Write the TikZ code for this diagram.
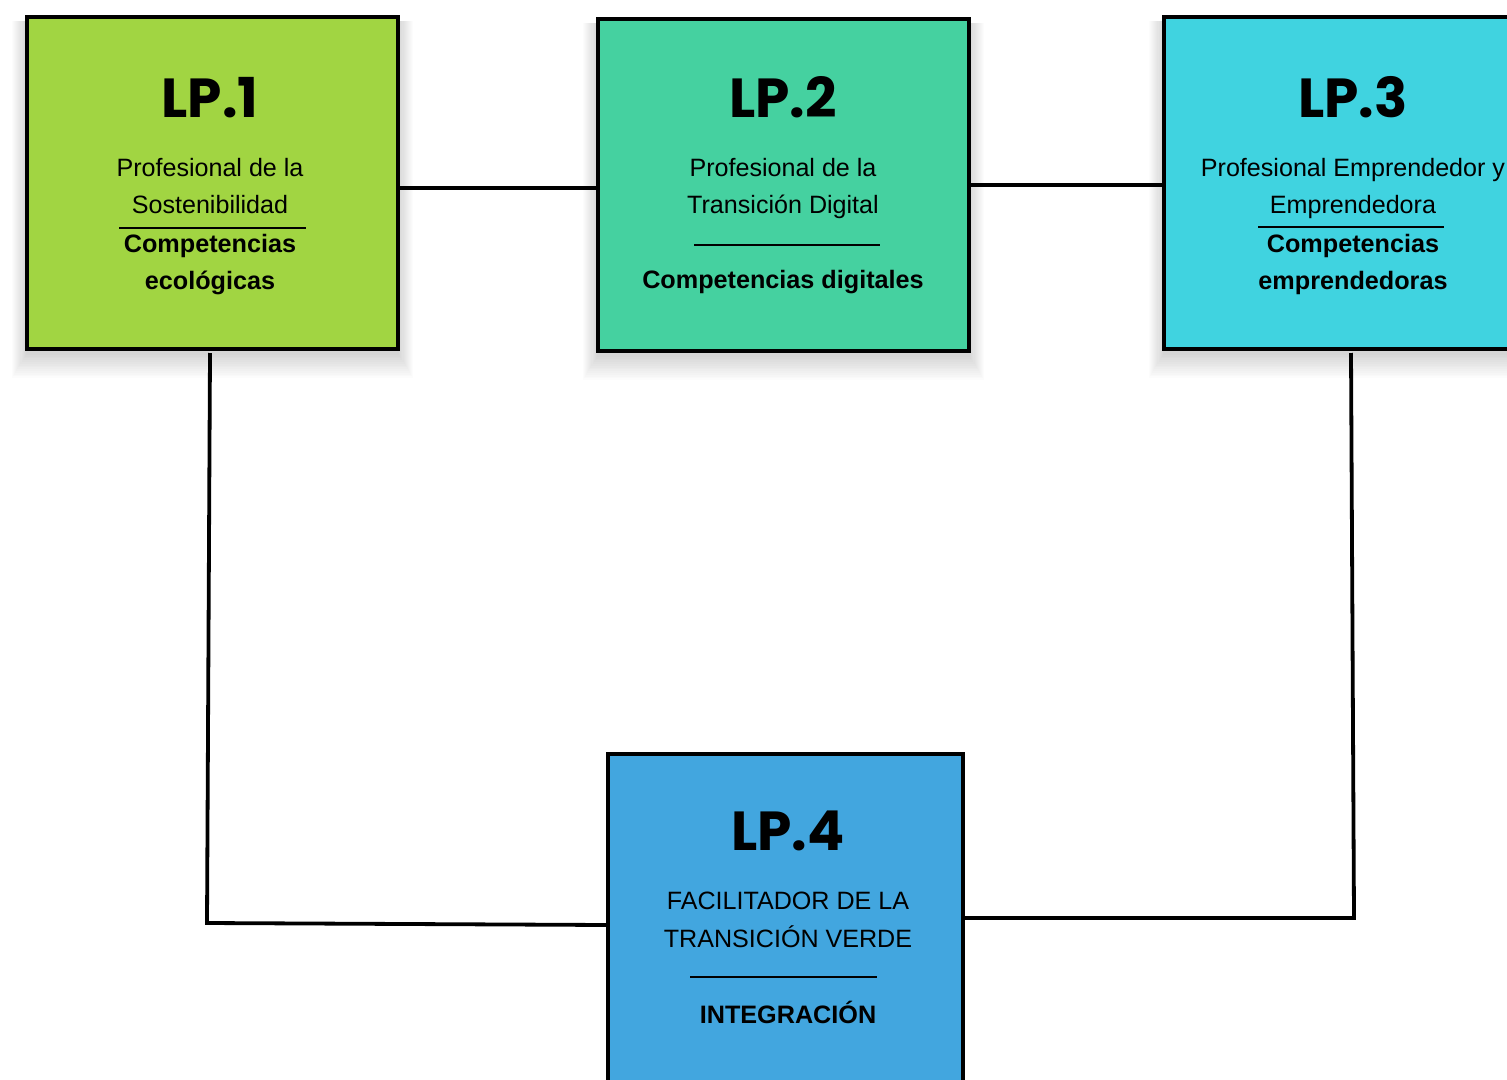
\documentclass[tikz,border=0pt]{standalone}
\usepackage{fontspec}
\setmainfont{Liberation Sans}
\newfontfamily\titlefont{Poppins}
\definecolor{cone}{RGB}{161,213,66}
\definecolor{ctwo}{RGB}{69,209,160}
\definecolor{cthree}{RGB}{64,211,224}
\definecolor{cfour}{RGB}{66,166,223}
\tikzset{
  box/.style={draw=black, line width=4pt, rectangle, anchor=north west, inner sep=0pt, outer sep=0pt},
  conn/.style={draw=black, line width=3.8pt},
  title/.style={anchor=base, inner sep=0pt, font=\titlefont\bfseries\fontsize{55}{55}\selectfont},
  txt/.style={anchor=base, inner sep=0pt, font=\fontsize{25.1}{25.1}\selectfont},
  btxt/.style={anchor=base, inner sep=0pt, font=\bfseries\fontsize{25.2}{25.2}\selectfont},
  rulel/.style={draw=black, line width=2pt}
}
\newcommand{\softshadow}[4]{%
  \foreach \i in {1,...,14} {
    \fill[black, opacity=0.01] (#1-\i*1.1, #2+4) rectangle (#3+\i*1.1, #4+4+\i*1.8);
  }%
}
\begin{document}
\begin{tikzpicture}[x=1pt,y=-1pt]
\useasboundingbox (0,0) rectangle (1507,1079);
\clip (0,0) rectangle (1507,1079);
\fill[white] (0,0) rectangle (1507,1079);
% shadows
\softshadow{27}{17}{398}{349}
\softshadow{598}{19}{969}{351}
\softshadow{1164}{17}{1535}{349}
% boxes
\node[box, fill=cone, minimum width=371pt, minimum height=332pt] (lp1) at (27,17) {};
\node[box, fill=ctwo, minimum width=371pt, minimum height=332pt] (lp2) at (598,19) {};
\node[box, fill=cthree, minimum width=371pt, minimum height=332pt] (lp3) at (1164,17) {};
\node[box, fill=cfour, minimum width=355pt, minimum height=346pt] (lp4) at (608,754) {};
% connectors
\draw[conn] (lp1.east |- 0,188) -- (lp2.west |- 0,188);
\draw[conn] (lp2.east |- 0,185) -- (lp3.west |- 0,185);
\draw[conn] (lp1.south -| 210,0) ++(0,4) -- (207,923) -- (lp4.west |- 0,925);
\draw[conn] (lp3.south -| 1351,0) ++(0,4) -- (1354,918) -- (lp4.east |- 0,918);
% LP1 texts
\node[title] (t1) at (210,117) {LP.1};
\node[txt] (a1) at (210,176) {Profesional de la};
\node[txt] (b1) at (210,213) {Sostenibilidad};
\draw[rulel] (119,228) -- (306,228);
\node[btxt] (c1) at (210,252) {Competencias};
\node[btxt] (d1) at (210,289) {ecológicas};
% LP2 texts
\node[title] (t2) at (783,117) {LP.2};
\node[txt] (a2) at (783,176) {Profesional de la};
\node[txt] (b2) at (783,213) {Transición Digital};
\draw[rulel] (694,245) -- (880,245);
\node[btxt] (c2) at (783,288) {Competencias digitales};
% LP3 texts
\node[title] (t3) at (1353,117) {LP.3};
\node[txt] (a3) at (1353,176) {Profesional Emprendedor y};
\node[txt] (b3) at (1353,213) {Emprendedora};
\draw[rulel] (1258,227) -- (1444,227);
\node[btxt] (c3) at (1353,252) {Competencias};
\node[btxt] (d3) at (1353,289) {emprendedoras};
% LP4 texts
\node[title] (t4) at (788,850) {LP.4};
\node[txt] (a4) at (788,909) {FACILITADOR DE LA};
\node[txt] (b4) at (788,947) {TRANSICIÓN VERDE};
\draw[rulel] (690,977) -- (877,977);
\node[btxt] (c4) at (788,1023) {INTEGRACIÓN};
\end{tikzpicture}
\end{document}
